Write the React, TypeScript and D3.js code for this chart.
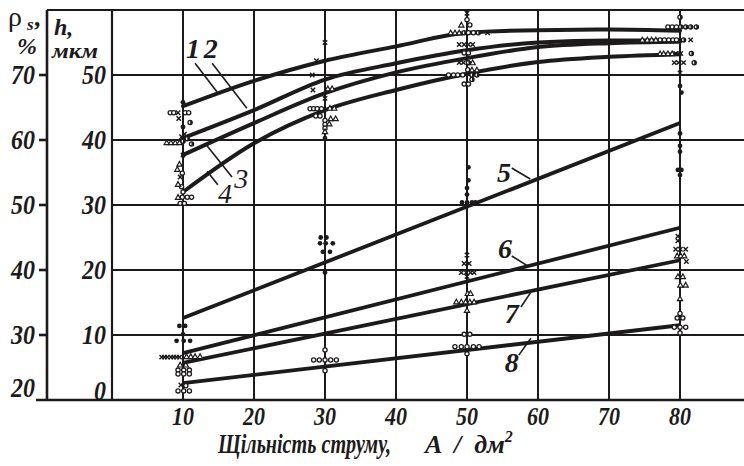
import React, { useLayoutEffect, useRef, useState } from 'react';
import * as d3 from 'd3';

// ---------- data ----------
const xTicks = [10, 20, 30, 40, 50, 60, 70, 80];
const hTicks = [0, 10, 20, 30, 40, 50];
const rhoTicks = [20, 30, 40, 50, 60, 70];

const curveX = [10, 20, 30, 40, 50, 60, 70, 80];
const curve1 = [45.2, 49.1, 52.2, 54.4, 56.5, 56.9, 57.0, 56.8];
const curve2 = [40.3, 44.6, 49.3, 51.8, 53.8, 55.0, 55.3, 55.3];
const curve3 = [37.7, 42.6, 47.2, 50.4, 52.6, 54.3, 54.9, 55.1];
const curve4 = [32.0, 39.5, 44.6, 47.7, 50.2, 52.0, 52.8, 53.2];

const lineX = [10, 80];
const line5 = [12.6, 42.6];
const line6 = [7.2, 26.5];
const line7 = [5.7, 21.5];
const line8 = [2.6, 11.5];

const openCircles: [number, number][] = [
  [8.2, 44.2], [8.7, 44.2], [10.3, 44.2], [10.8, 44.2],
  [9.9, 34.9], [9.8, 32.8], [10, 32.0], [9.9, 31.2], [10.6, 31.2], [11.2, 31.2], [9.6, 30.25], [10.2, 30.25],
  [9.3, 4.6], [10.1, 4.6], [10.9, 4.6], [9.3, 4.0], [10.1, 4.0], [10.9, 4.0],
  [10.4, 2.2], [9.3, 1.4], [10.1, 1.4], [10.9, 1.4],
  [27.9, 44.8], [28.4, 44.8], [28.9, 44.8], [29.5, 44.8], [28.7, 43.7], [29.3, 43.7], [30, 43.0], [30, 42.4], [30, 41.8],
  [28.4, 6.15], [29.2, 6.15], [30, 6.15], [30.8, 6.15], [31.6, 6.15], [30, 7.7], [30, 4.5],
  [50, 58.5], [50.4, 57.7], [50.2, 56.5], [50.9, 56.5], [49.6, 53.4], [50.2, 53.4], [50.1, 50.8],
  [47.4, 50], [48.1, 50], [48.7, 50], [49.4, 50], [49.6, 48.6], [50.2, 48.6],
  [49.6, 10.1], [50.4, 10.1], [48.3, 8.2], [49.2, 8.2], [50, 8.2], [50.9, 8.2], [51.7, 8.2], [50, 7.1],
  [78.3, 57.4], [78.9, 57.4], [79.5, 57.4], [77.2, 55.4], [77.8, 55.4], [78.4, 55.4], [79, 55.4], [79.5, 55.4],
  [80, 13.3], [79.6, 12.6], [80.4, 12.6], [79.2, 11.2], [80, 11.2], [80.8, 11.2], [80, 10.3],
];

const filledDots: [number, number][] = [
  [10, 45.8], [10, 42.0],
  [9.5, 11.4], [10.3, 11.4], [10, 10.1], [9.1, 9.1], [10.1, 9.1], [11.0, 9.1],
  [30, 40.3],
  [29.4, 25.0], [30.2, 25.0], [29.3, 24.1], [30.1, 24.1], [31.1, 24.1], [29.7, 22.8], [30.7, 22.8], [30, 19.6],
  [50.2, 35.8], [50.2, 33.8], [50, 32.6], [50, 31.6], [49.3, 30.4], [50, 30.4], [50.7, 30.4], [51.2, 30.4],
  [80, 48.3], [80.2, 47.3], [80, 41.0], [80, 39.1], [80, 38.2], [79.7, 35.4], [80.2, 35.4], [80, 34.6],
];

const crosses: [number, number][] = [
  [9.3, 44.2], [9.4, 43.3], [9.8, 40.5], [10.2, 40.9], [10, 37.7], [9.6, 34.3],
  [7.0, 6.6], [7.4, 6.6], [7.8, 6.6], [8.3, 6.6], [8.7, 6.6], [9.1, 6.6], [9.5, 6.6], [9.7, 2.3],
  [30, 55], [28.8, 52.2], [28.2, 50], [28.3, 47.7], [30, 46.4],
  [50, 59.5], [52.9, 56.5], [48.9, 54.7], [49.6, 54.7], [50.2, 54.7], [50.8, 54.7], [48.9, 51.9], [49.5, 51.9],
  [50, 22.3], [49.6, 21.0], [50.3, 21.0], [49.2, 19.6], [49.9, 19.6], [50.5, 19.6], [51.0, 19.6], [50, 19.0],
  [81.5, 55.4], [79.4, 53.3], [80.1, 53.3], [79.2, 51.9], [79.8, 51.9], [80.5, 51.9], [80, 50.3],
  [79.7, 25.2], [79.7, 24.5], [79.4, 23.2], [80.05, 23.2], [80.8, 23.2], [80.9, 21.3],
];

const triangles: [number, number][] = [
  [7.7, 39.6], [8.3, 39.6], [8.9, 39.6], [9.5, 39.6], [9.5, 36.3], [9.2, 35.5], [9.3, 33.2], [9.3, 31.2],
  [10.5, 6.7], [11.1, 6.7], [11.7, 6.7], [12.4, 6.7], [9.6, 5.4], [10.4, 5.4],
  [30.4, 47.9], [31.0, 47.9], [30.7, 44.9], [31.3, 44.9], [30.8, 43.3], [31.5, 43.3], [30.6, 42.5], [30, 41.3],
  [49.2, 57.7], [47.7, 56.5], [48.3, 56.5], [48.9, 56.5], [50.8, 51.9], [50.7, 50.8], [51.4, 50.8],
  [50.1, 16.4], [50.5, 16.4], [48.5, 15.1], [49.2, 15.1], [49.8, 15.1], [50.4, 15.1], [51.0, 15.1], [50, 13.8],
  [74.7, 55.4], [75.4, 55.4], [76, 55.4], [76.6, 55.4], [77.2, 53.3], [77.7, 53.3], [78.3, 53.3], [78.9, 53.3],
  [79.6, 22.2], [80.1, 22.2], [80.6, 22.2], [79.7, 19.0], [80.4, 19.0], [80.05, 17.7], [80.8, 17.7], [80, 15.6],
];

const halfCircles: [number, number][] = [
  [11.0, 42.7], [10.0, 39.8], [10.6, 40.2], [11.2, 39.4],
  [49.6, 56.5], [51.6, 56.5], [50.2, 51.9], [50.7, 50], [51.4, 50], [50.7, 49.3],
  [80, 58.9], [80.1, 57.4], [80.8, 57.4], [81.5, 57.4], [82.3, 57.4], [80.5, 55.4], [81.6, 53.3], [82, 51.9],
];

// curve labels with leader lines, in data units
const curveLabels = [
  { t: '1', x: 11.4, h: 52.6, x1: 11.7, h1: 51.8, x2: 14.8, h2: 47.4, bold: true },
  { t: '2', x: 13.9, h: 52.6, x1: 14.1, h1: 51.8, x2: 19.0, h2: 44.9, bold: true },
  { t: '3', x: 18.2, h: 32.6, x1: 16.9, h1: 34.3, x2: 13.1, h2: 39.5, bold: false },
  { t: '4', x: 15.9, h: 30.3, x1: 14.9, h1: 33.1, x2: 13.4, h2: 35.2, bold: false },
  { t: '5', x: 55.2, h: 33.5, x1: 56.3, h1: 35.7, x2: 58.9, h2: 34.0, bold: true },
  { t: '6', x: 55.35, h: 21.8, x1: 56.3, h1: 22.15, x2: 58.6, h2: 20.6, bold: true },
  { t: '7', x: 56.3, h: 11.85, x1: 57.6, h1: 14.3, x2: 59.0, h2: 16.6, bold: true },
  { t: '8', x: 56.3, h: 4.3, x1: 57.3, h1: 6.9, x2: 59.0, h2: 9.5, bold: true },
];

// ---------- drawing ----------
const W = 744;
const H = 466;
const FF = '"Liberation Serif","Times New Roman",serif';
const INK = '#1c1a1a';

export default function App() {
  const x = d3.scaleLinear().domain([0, 90]).range([112, 751]);
  const y = d3.scaleLinear().domain([0, 60]).range([400, 10]);
  const yRho = d3.scaleLinear().domain([20, 80]).range([400, 10]);
  const top = y(60);
  const bottom = y(0);

  const titleRef = useRef<SVGTextElement>(null);
  const [sx, setSx] = useState(0.85);
  useLayoutEffect(() => {
    const el = titleRef.current;
    if (el) {
      const w = el.getBBox().width;
      if (w > 0) setSx(174 / w);
    }
  }, []);

  const curveGen = d3
    .line<[number, number]>()
    .x((d) => x(d[0]))
    .y((d) => y(d[1]))
    .curve(d3.curveMonotoneX);
  const lineGen = d3
    .line<[number, number]>()
    .x((d) => x(d[0]))
    .y((d) => y(d[1]));

  const curves = [curve1, curve2, curve3, curve4].map((c) =>
    curveGen(curveX.map((v, i) => [v, c[i]] as [number, number]))
  );
  const lines = [line5, line6, line7, line8].map((c) =>
    lineGen(lineX.map((v, i) => [v, c[i]] as [number, number]))
  );

  const r = 2.1;
  const tri = (cx: number, cy: number) => {
    const s = 2.6;
    return `M${cx},${cy - s}L${cx + s},${cy + s * 0.8}L${cx - s},${cy + s * 0.8}Z`;
  };
  const numLen = (v: number) => (String(v).length === 1 ? 12 : 24);

  return (
    <svg
      width={W}
      height={H}
      viewBox={`0 0 ${W} ${H}`}
      style={{ position: 'absolute', left: 0, top: 0, background: '#fff' }}
    >
      <rect x={0} y={0} width={W} height={H} fill="#fff" />
      {/* horizontal grid */}
      {hTicks.filter((v) => v > 0).map((v) => (
        <line key={'hg' + v} x1={x(0)} x2={W} y1={y(v)} y2={y(v)} stroke={INK} strokeWidth={2} />
      ))}
      {/* vertical grid */}
      {xTicks.map((v) => (
        <line key={'vg' + v} x1={x(v)} x2={x(v)} y1={top} y2={bottom} stroke={INK} strokeWidth={2} />
      ))}
      {/* frame */}
      <line x1={47} x2={W} y1={top} y2={top} stroke={INK} strokeWidth={2.2} />
      <line x1={47} x2={47} y1={top} y2={bottom} stroke={INK} strokeWidth={2.6} />
      <line x1={x(0)} x2={x(0)} y1={top} y2={bottom} stroke={INK} strokeWidth={2.2} />
      <line x1={36} x2={W} y1={bottom} y2={bottom} stroke={INK} strokeWidth={2.6} />
      {rhoTicks.filter((v) => v > 20).map((v) => (
        <line key={'rt' + v} x1={39} x2={47} y1={yRho(v)} y2={yRho(v)} stroke={INK} strokeWidth={2.6} />
      ))}

      {/* tick labels */}
      <g fontFamily={FF} fontWeight="bold" fontStyle="italic" fill={INK} fontSize={27}>
        {rhoTicks.map((v) => (
          <text
            key={'rl' + v}
            x={35 - numLen(v)}
            y={yRho(v) + (v === 20 ? -12 : 0) + 9}
            textLength={numLen(v)}
            lengthAdjust="spacingAndGlyphs"
          >
            {v}
          </text>
        ))}
        {hTicks.map((v) => (
          <text
            key={'hl' + v}
            x={106 - numLen(v)}
            y={y(v) + (v === 0 ? -9 : 0) + 9}
            textLength={numLen(v)}
            lengthAdjust="spacingAndGlyphs"
          >
            {v}
          </text>
        ))}
        {xTicks.map((v) => (
          <text
            key={'xl' + v}
            x={x(v) - 11}
            y={425}
            fontSize={25}
            textLength={22}
            lengthAdjust="spacingAndGlyphs"
          >
            {v}
          </text>
        ))}
      </g>

      {/* axis titles */}
      <g fontFamily={FF} fill={INK}>
        <text x={8} y={26} fontSize={28}>ρ</text>
        <text x={27} y={30} fontSize={17} fontWeight="bold" fontStyle="italic">s</text>
        <text x={35} y={26} fontSize={26} fontWeight="bold" fontStyle="italic">,</text>
        <text x={17} y={54} fontSize={24} fontWeight="bold" fontStyle="italic">%</text>
        <text x={54} y={35} fontSize={24} fontWeight="bold" fontStyle="italic">h,</text>
        <text x={52} y={58} fontSize={20} fontWeight="bold" fontStyle="italic" textLength={46} lengthAdjust="spacingAndGlyphs">мкм</text>
        <text
          ref={titleRef}
          x={0}
          y={0}
          transform={`translate(218,453) scale(${sx},1)`}
          fontSize={27}
          fontWeight="bold"
          fontStyle="italic"
        >
          Щільність струму,
        </text>
        <text x={425} y={453} fontSize={26} fontWeight="bold" fontStyle="italic" style={{ whiteSpace: 'pre' }}>
          {'A  /  дм'}
          <tspan fontSize={16} dy={-11}>2</tspan>
        </text>
      </g>

      {/* fitted curves */}
      {curves.map((d, i) => (
        <path key={'c' + i} d={d || ''} fill="none" stroke={INK} strokeWidth={4} strokeLinecap="round" />
      ))}
      {lines.map((d, i) => (
        <path key={'l' + i} d={d || ''} fill="none" stroke={INK} strokeWidth={3.8} strokeLinecap="butt" />
      ))}

      {/* experimental markers */}
      {openCircles.map(([a, b], i) => (
        <circle key={'o' + i} cx={x(a)} cy={y(b)} r={r} fill="#fff" stroke={INK} strokeWidth={1.3} />
      ))}
      {halfCircles.map(([a, b], i) => {
        const cx = x(a);
        const cy = y(b);
        return (
          <g key={'hc' + i}>
            <circle cx={cx} cy={cy} r={r} fill="#fff" stroke={INK} strokeWidth={1.3} />
            <path d={`M${cx},${cy - r}A${r},${r} 0 0 1 ${cx},${cy + r}Z`} fill={INK} />
          </g>
        );
      })}
      {triangles.map(([a, b], i) => (
        <path key={'t' + i} d={tri(x(a), y(b))} fill="#fff" stroke={INK} strokeWidth={1.2} />
      ))}
      {crosses.map(([a, b], i) => {
        const cx = x(a);
        const cy = y(b);
        const s = 2.2;
        return (
          <path
            key={'x' + i}
            d={`M${cx - s},${cy - s}L${cx + s},${cy + s}M${cx - s},${cy + s}L${cx + s},${cy - s}`}
            stroke={INK}
            strokeWidth={1.4}
          />
        );
      })}
      {filledDots.map(([a, b], i) => (
        <circle key={'f' + i} cx={x(a)} cy={y(b)} r={2.4} fill={INK} />
      ))}

      {/* curve labels */}
      {curveLabels.map((l) => (
        <g key={'lab' + l.t}>
          <line x1={x(l.x1)} y1={y(l.h1)} x2={x(l.x2)} y2={y(l.h2)} stroke={INK} strokeWidth={1.6} />
          <text
            x={x(l.x)}
            y={y(l.h)}
            textAnchor="middle"
            fontFamily={FF}
            fontStyle="italic"
            fontWeight={l.bold ? 'bold' : 'normal'}
            fontSize={28}
            fill={INK}
          >
            {l.t}
          </text>
        </g>
      ))}
    </svg>
  );
}
